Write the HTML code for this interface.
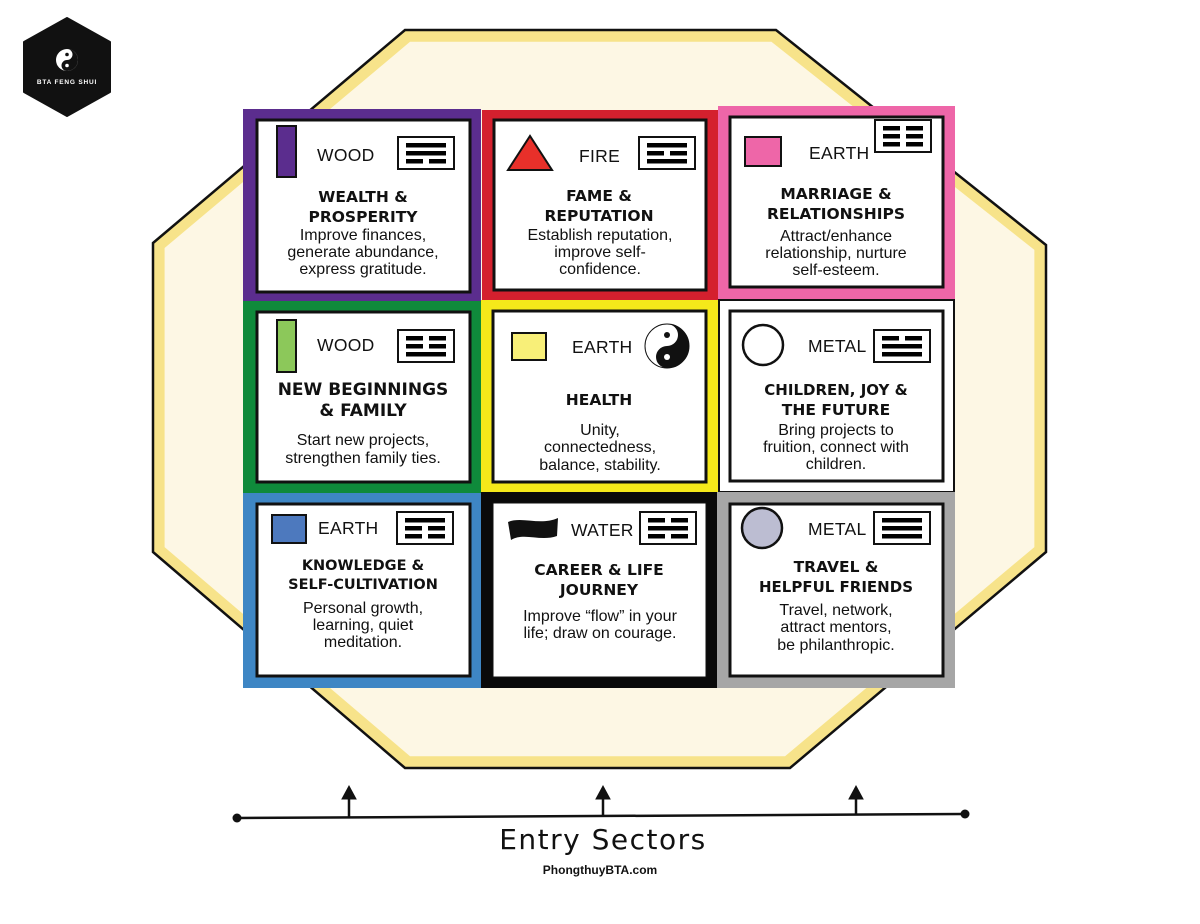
<!DOCTYPE html>
<html><head><meta charset="utf-8"><style>
html,body{margin:0;padding:0;background:#fff;}
svg{display:block;font-family:"Liberation Sans",Arial,sans-serif;}
.el{font-size:17.5px;fill:#111;letter-spacing:0.3px;}
.h{font-family:"DejaVu Sans",sans-serif;font-size:15.5px;font-weight:bold;fill:#111;text-anchor:middle;}
.b{font-size:16px;fill:#111;text-anchor:middle;}
</style></head><body>
<svg width="1200" height="924" viewBox="0 0 1200 924" xmlns="http://www.w3.org/2000/svg">
<defs>
<g id="S"><rect x="0" y="0" width="40" height="4.5" fill="#000"/></g>
<g id="B"><rect x="0" y="0" width="17" height="4.5" fill="#000"/><rect x="23" y="0" width="17" height="4.5" fill="#000"/></g>
</defs>
<!-- logo -->
<polygon points="67,18 110,42 110,92 67,116 24,92 24,42" fill="#111" stroke="#111" stroke-width="2" stroke-linejoin="round"/>
<circle cx="67" cy="60" r="11" fill="#fff"/>
<path d="M67,49 a11,11 0 0 1 0,22 a5.5,5.5 0 0 1 0,-11 a5.5,5.5 0 0 0 0,-11z" fill="#111"/>
<circle cx="67" cy="54.5" r="1.8" fill="#111"/><circle cx="67" cy="65.5" r="1.8" fill="#fff"/>
<text x="67" y="84" font-size="6.5" font-weight="bold" fill="#fff" text-anchor="middle" letter-spacing="0.8">BTA FENG SHUI</text>
<!-- octagon -->
<polygon points="405,30 776,30 1046,245 1046,552 790,768 405,768 153,552 153,243" fill="#f7e38a" stroke="#111" stroke-width="2.5"/>
<polygon points="405,30 776,30 1046,245 1046,552 790,768 405,768 153,552 153,243" fill="#fdf7e4" transform="translate(599,399) scale(0.974,0.968) translate(-599,-399)"/>

<!-- cell outer frames -->
<rect x="243" y="109" width="238" height="192" fill="#5b2d8e"/>
<rect x="482" y="110" width="236" height="190" fill="#d4202e"/>
<rect x="718" y="106" width="237" height="193" fill="#ee66a8"/>
<rect x="243" y="301" width="238" height="192" fill="#0f8a3b"/>
<rect x="481" y="300" width="237" height="193" fill="#f5e91a"/>
<rect x="719" y="300" width="235" height="192" fill="#fff" stroke="#111" stroke-width="2"/>
<rect x="243" y="493" width="238" height="195" fill="#3e86c4"/>
<rect x="481" y="492" width="236" height="196" fill="#0a0a0a"/>
<rect x="717" y="492" width="238" height="196" fill="#a6a6a6"/>
<!-- inner white boxes -->
<g fill="#fff" stroke="#111" stroke-width="3">
<rect x="257" y="120" width="213" height="172"/>
<rect x="494" y="120" width="212" height="170"/>
<rect x="730" y="117" width="213" height="170"/>
<rect x="257" y="312" width="213" height="170"/>
<rect x="493" y="311" width="213" height="171"/>
<rect x="730" y="311" width="213" height="170"/>
<rect x="257" y="504" width="213" height="172"/>
<rect x="493" y="503" width="213" height="174" stroke-width="1"/>
<rect x="730" y="504" width="213" height="172"/>
</g>
<!-- trigram boxes -->
<g fill="#fff" stroke="#111" stroke-width="2">
<rect x="398" y="137" width="56" height="32"/>
<rect x="639" y="137" width="56" height="32"/>
<rect x="875" y="120" width="56" height="32"/>
<rect x="398" y="330" width="56" height="32"/>
<rect x="874" y="330" width="56" height="32"/>
<rect x="397" y="512" width="56" height="32"/>
<rect x="640" y="512" width="56" height="32"/>
<rect x="874" y="512" width="56" height="32"/>
</g>
<!-- trigram lines -->
<use href="#S" x="406" y="143"/><use href="#S" x="406" y="151"/><use href="#B" x="406" y="159"/>
<use href="#S" x="647" y="143"/><use href="#B" x="647" y="151"/><use href="#S" x="647" y="159"/>
<use href="#B" x="883" y="126"/><use href="#B" x="883" y="134"/><use href="#B" x="883" y="142"/>
<use href="#B" x="406" y="336"/><use href="#B" x="406" y="344"/><use href="#S" x="406" y="352"/>
<use href="#B" x="882" y="336"/><use href="#S" x="882" y="344"/><use href="#S" x="882" y="352"/>
<use href="#S" x="405" y="518"/><use href="#B" x="405" y="526"/><use href="#B" x="405" y="534"/>
<use href="#B" x="648" y="518"/><use href="#S" x="648" y="526"/><use href="#B" x="648" y="534"/>
<use href="#S" x="882" y="518"/><use href="#S" x="882" y="526"/><use href="#S" x="882" y="534"/>

<!-- icons -->
<rect x="277" y="126" width="19" height="51" fill="#5b2d8e" stroke="#111" stroke-width="2"/>
<polygon points="508,170 552,170 530,136" fill="#e8302a" stroke="#111" stroke-width="2"/>
<rect x="745" y="137" width="36" height="29" fill="#ee66a8" stroke="#111" stroke-width="2"/>
<rect x="277" y="320" width="19" height="52" fill="#8cc85a" stroke="#111" stroke-width="2"/>
<rect x="512" y="333" width="34" height="27" fill="#f8ef78" stroke="#111" stroke-width="2"/>
<g transform="translate(667,346)">
<circle r="22" fill="#fff" stroke="#111" stroke-width="1"/>
<path d="M0,-22 a22,22 0 0 1 0,44 a11,11 0 0 1 0,-22 a11,11 0 0 0 0,-22z" fill="#111"/>
<circle cy="-11" r="3" fill="#111"/><circle cy="11" r="3" fill="#fff"/>
</g>
<circle cx="763" cy="345" r="20" fill="#fff" stroke="#111" stroke-width="2.5"/>
<rect x="272" y="515" width="34" height="28" fill="#4d79be" stroke="#111" stroke-width="2"/>
<path d="M508,522 C522,516 540,526 558,518 L557,536 C540,542 524,532 511,540 Z" fill="#111"/>
<circle cx="762" cy="528" r="20" fill="#bcbdd2" stroke="#111" stroke-width="2.5"/>

<!-- element labels -->
<text class="el" x="317" y="161">WOOD</text>
<text class="el" x="579" y="162">FIRE</text>
<text class="el" x="809" y="159">EARTH</text>
<text class="el" x="317" y="351">WOOD</text>
<text class="el" x="572" y="353">EARTH</text>
<text class="el" x="808" y="352">METAL</text>
<text class="el" x="318" y="534">EARTH</text>
<text class="el" x="571" y="536">WATER</text>
<text class="el" x="808" y="535">METAL</text>

<!-- headings -->
<text class="h" x="363" y="202">WEALTH &amp;</text><text class="h" x="363" y="222">PROSPERITY</text>
<text class="h" x="599" y="201">FAME &amp;</text><text class="h" x="599" y="221">REPUTATION</text>
<text class="h" x="836" y="199">MARRIAGE &amp;</text><text class="h" x="836" y="219">RELATIONSHIPS</text>
<text class="h" x="363" y="395" style="font-size:17px">NEW BEGINNINGS</text><text class="h" x="363" y="416" style="font-size:17px">&amp; FAMILY</text>
<text class="h" x="599" y="405">HEALTH</text>
<text class="h" x="836" y="395" style="font-size:15px">CHILDREN, JOY &amp;</text><text class="h" x="836" y="415">THE FUTURE</text>
<text class="h" x="363" y="570" style="font-size:14.5px">KNOWLEDGE &amp;</text><text class="h" x="363" y="589" style="font-size:14.5px">SELF-CULTIVATION</text>
<text class="h" x="599" y="575">CAREER &amp; LIFE</text><text class="h" x="599" y="595">JOURNEY</text>
<text class="h" x="836" y="572">TRAVEL &amp;</text><text class="h" x="836" y="592" style="font-size:15px">HELPFUL FRIENDS</text>

<!-- body -->
<text class="b" x="363" y="240">Improve finances,</text><text class="b" x="363" y="257">generate abundance,</text><text class="b" x="363" y="274">express gratitude.</text>
<text class="b" x="600" y="240">Establish reputation,</text><text class="b" x="600" y="257">improve self-</text><text class="b" x="600" y="274">confidence.</text>
<text class="b" x="836" y="241">Attract/enhance</text><text class="b" x="836" y="258">relationship, nurture</text><text class="b" x="836" y="275">self-esteem.</text>
<text class="b" x="363" y="445">Start new projects,</text><text class="b" x="363" y="463">strengthen family ties.</text>
<text class="b" x="600" y="435">Unity,</text><text class="b" x="600" y="452">connectedness,</text><text class="b" x="600" y="470">balance, stability.</text>
<text class="b" x="836" y="435">Bring projects to</text><text class="b" x="836" y="452">fruition, connect with</text><text class="b" x="836" y="469">children.</text>
<text class="b" x="363" y="613">Personal growth,</text><text class="b" x="363" y="630">learning, quiet</text><text class="b" x="363" y="647">meditation.</text>
<text class="b" x="600" y="621">Improve “flow” in your</text><text class="b" x="600" y="638">life; draw on courage.</text>
<text class="b" x="836" y="615">Travel, network,</text><text class="b" x="836" y="632">attract mentors,</text><text class="b" x="836" y="650">be philanthropic.</text>

<!-- entry line -->
<line x1="237" y1="818" x2="965" y2="814" stroke="#111" stroke-width="2.5"/>
<circle cx="237" cy="818" r="4.5" fill="#111"/><circle cx="965" cy="814" r="4.5" fill="#111"/>
<g stroke="#111" stroke-width="2.5" fill="#111">
<line x1="349" y1="817" x2="349" y2="795"/><polygon points="342,799 349,786 356,799" stroke-width="1"/>
<line x1="603" y1="816" x2="603" y2="795"/><polygon points="596,799 603,786 610,799" stroke-width="1"/>
<line x1="856" y1="815" x2="856" y2="795"/><polygon points="849,799 856,786 863,799" stroke-width="1"/>
</g>
<text x="603" y="849" font-size="28" fill="#111" text-anchor="middle" letter-spacing="1.5" font-family="'DejaVu Sans',sans-serif">Entry Sectors</text>
<text x="600" y="874" font-size="12" font-weight="bold" fill="#111" text-anchor="middle">PhongthuyBTA.com</text>
</svg>
</body></html>
